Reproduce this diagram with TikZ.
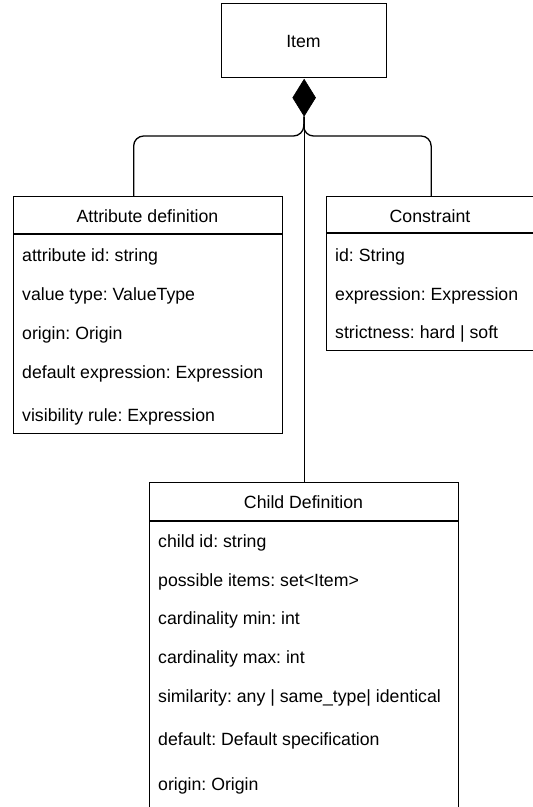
\documentclass[tikz,border=0pt]{standalone}
\usepackage{fontspec}
\setmainfont{Liberation Sans}
\frenchspacing
\usetikzlibrary{shapes.geometric}
\tikzset{
  x=1pt, y=-1pt,
  umlline/.style={draw=black, line width=1.3pt},
  classbox/.style={umlline, rectangle, inner sep=0pt, anchor=north west},
  member/.style={anchor=base west, inner sep=0pt, font=\fontsize{17.7}{20}\selectfont},
  title/.style={anchor=base, inner sep=0pt, font=\fontsize{17.7}{20}\selectfont},
  composite/.style={diamond, fill=black, draw=black, line width=0.6pt, inner sep=0pt,
    minimum width=23pt, minimum height=37pt, anchor=north},
  link/.style={umlline, rounded corners=10pt},
}
\begin{document}
\begin{tikzpicture}
\useasboundingbox (0,0) rectangle (533,807);
\clip (0,0) rectangle (533,807);

% Item class
\node[classbox, minimum width=165pt, minimum height=74pt] (item) at (221,3) {};
\node[title] (itemname) at (303.5,47) {Item};
\node[composite] (dia) at ([yshift=-0.6pt]item.south) {};

% Attribute definition class
\node[classbox, minimum width=269pt, minimum height=237pt] (attr) at (13,196) {};
\draw[umlline] (13,234) -- (282,234);
\node[title] (attrname) at (147.5,222) {Attribute definition};
\node[member] (a1) at (22,261) {attribute id: string};
\node[member] (a2) at (22,300) {value type: ValueType};
\node[member] (a3) at (22,339) {origin: Origin};
\node[member] (a4) at (22,378) {default expression: Expression};
\node[member] (a5) at (22,421) {visibility rule: Expression};

% Constraint class (runs past the right edge)
\node[classbox, minimum width=209pt, minimum height=154pt] (cons) at (326,196) {};
\draw[umlline] (326,233) -- (535,233);
\node[title] (consname) at (430,222) {Constraint};
\node[member] (c1) at (335,261) {id: String};
\node[member] (c2) at (335,300) {expression: Expression};
\node[member] (c3) at (335,338) {strictness: hard | soft};

% Child Definition class (runs past the bottom edge)
\node[classbox, minimum width=309pt, minimum height=360pt] (child) at (149,482) {};
\draw[umlline] (149,521) -- (458,521);
\node[title] (childname) at (303.5,508) {Child Definition};
\node[member] (d1) at (158,547) {child id: string};
\node[member] (d2) at (158,586) {possible items: set<Item>};
\node[member] (d3) at (158,624) {cardinality min: int};
\node[member] (d4) at (158,663) {cardinality max: int};
\node[member] (d5) at (158,702) {similarity: any | same\_type| identical};
\node[member] (d6) at (158,745) {default: Default specification};
\node[member] (d7) at (158,790) {origin: Origin};

% Composition links
\coordinate (split) at (303.5,136);
\draw[link] (dia.south) -- (split) -| ([xshift=-14.5pt]attr.north);
\draw[link] (dia.south) -- (split) -| (cons.north);
\draw[umlline] (dia.south) -- (child.north);
\end{tikzpicture}
\end{document}
